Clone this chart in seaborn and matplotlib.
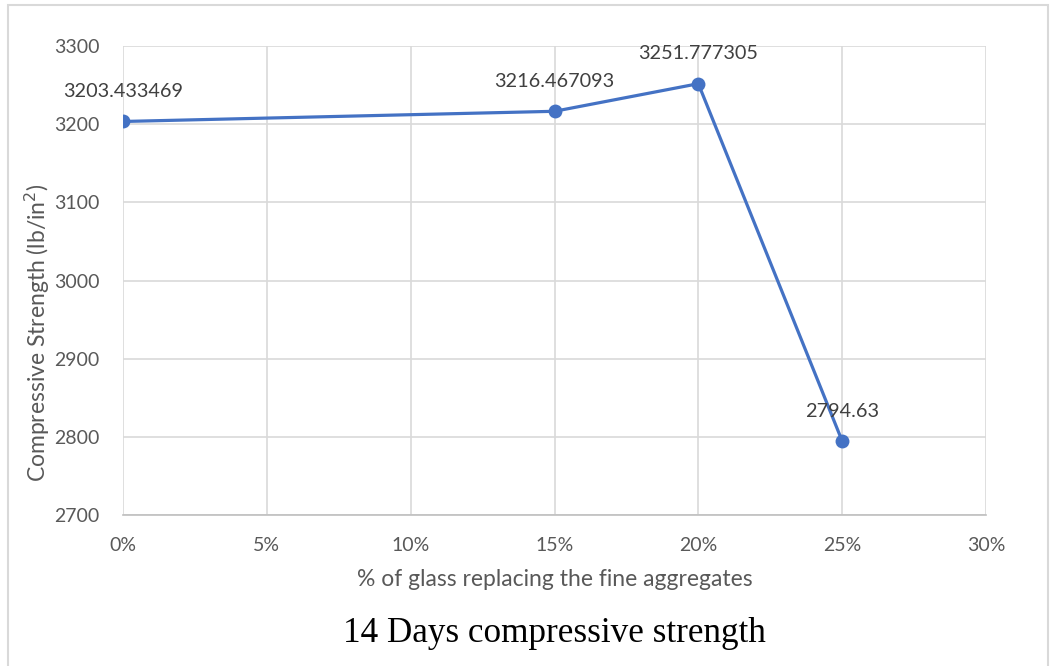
import matplotlib
matplotlib.use("Agg")
import matplotlib.pyplot as plt
import seaborn as sns
import pandas as pd
from matplotlib.ticker import FuncFormatter, MultipleLocator
from matplotlib.patches import Rectangle

glass_pct = [0.00, 0.15, 0.20, 0.25]
strength = [3203.433469, 3216.467093, 3251.777305, 2794.63]
labels = ["3203.433469", "3216.467093", "3251.777305", "2794.63"]

df = pd.DataFrame({"pct": glass_pct, "strength": strength})

sns.set_theme(style="white")
plt.rcParams["font.family"] = ["Lato", "DejaVu Sans"]

W, H = 1053, 666
fig = plt.figure(figsize=(W / 100, H / 100), dpi=100)
ax = fig.add_axes([123 / W, 1 - 515 / H, (986 - 123) / W, (515 - 46) / H])

sns.lineplot(data=df, x="pct", y="strength", ax=ax, color="#4472C4",
             linewidth=2.3, marker="o", markersize=10, markeredgewidth=0,
             zorder=3)

ax.set_xlim(0, 0.30)
ax.set_ylim(2700, 3300)
ax.xaxis.set_major_locator(MultipleLocator(0.05))
ax.yaxis.set_major_locator(MultipleLocator(100))
ax.xaxis.set_major_formatter(FuncFormatter(lambda v, p: f"{v*100:.0f}%"))
ax.grid(True, color="#d9d9d9", linewidth=1.2)
ax.set_axisbelow(True)
for s in ["top", "right", "left"]:
    ax.spines[s].set_visible(False)
ax.spines["bottom"].set_color("#bfbfbf")
ax.spines["bottom"].set_linewidth(1.2)
ax.tick_params(axis="both", length=0, labelsize=14, colors="#595959")
ax.tick_params(axis="x", pad=16)
ax.tick_params(axis="y", pad=17)

ax.set_xlabel("% of glass replacing the fine aggregates", fontsize=16.5,
              color="#595959", labelpad=11)
ax.set_ylabel("Compressive Strength (lb/in$^{2}$)", fontsize=16.5,
              color="#595959", labelpad=12)
ax.yaxis.set_label_coords(-71 / 863, 0.388)

for x, y, t in zip(glass_pct, strength, labels):
    ax.annotate(t, (x, y), xytext=(0, 21.5), textcoords="offset points",
                ha="center", va="center", fontsize=14.3, color="#404040")

fig.text(554 / W, 1 - 633 / H, "14 Days compressive strength", ha="center",
         va="center", fontsize=25.3, family=["Liberation Serif", "DejaVu Serif"],
         color="black")

fig.patches.append(Rectangle((8 / W, -0.01), (1048 - 8) / W, 1 - 5 / H + 0.01,
                             transform=fig.transFigure, fill=False,
                             edgecolor="#d9d9d9", linewidth=1.5))

fig.savefig("out.png", dpi=100)
